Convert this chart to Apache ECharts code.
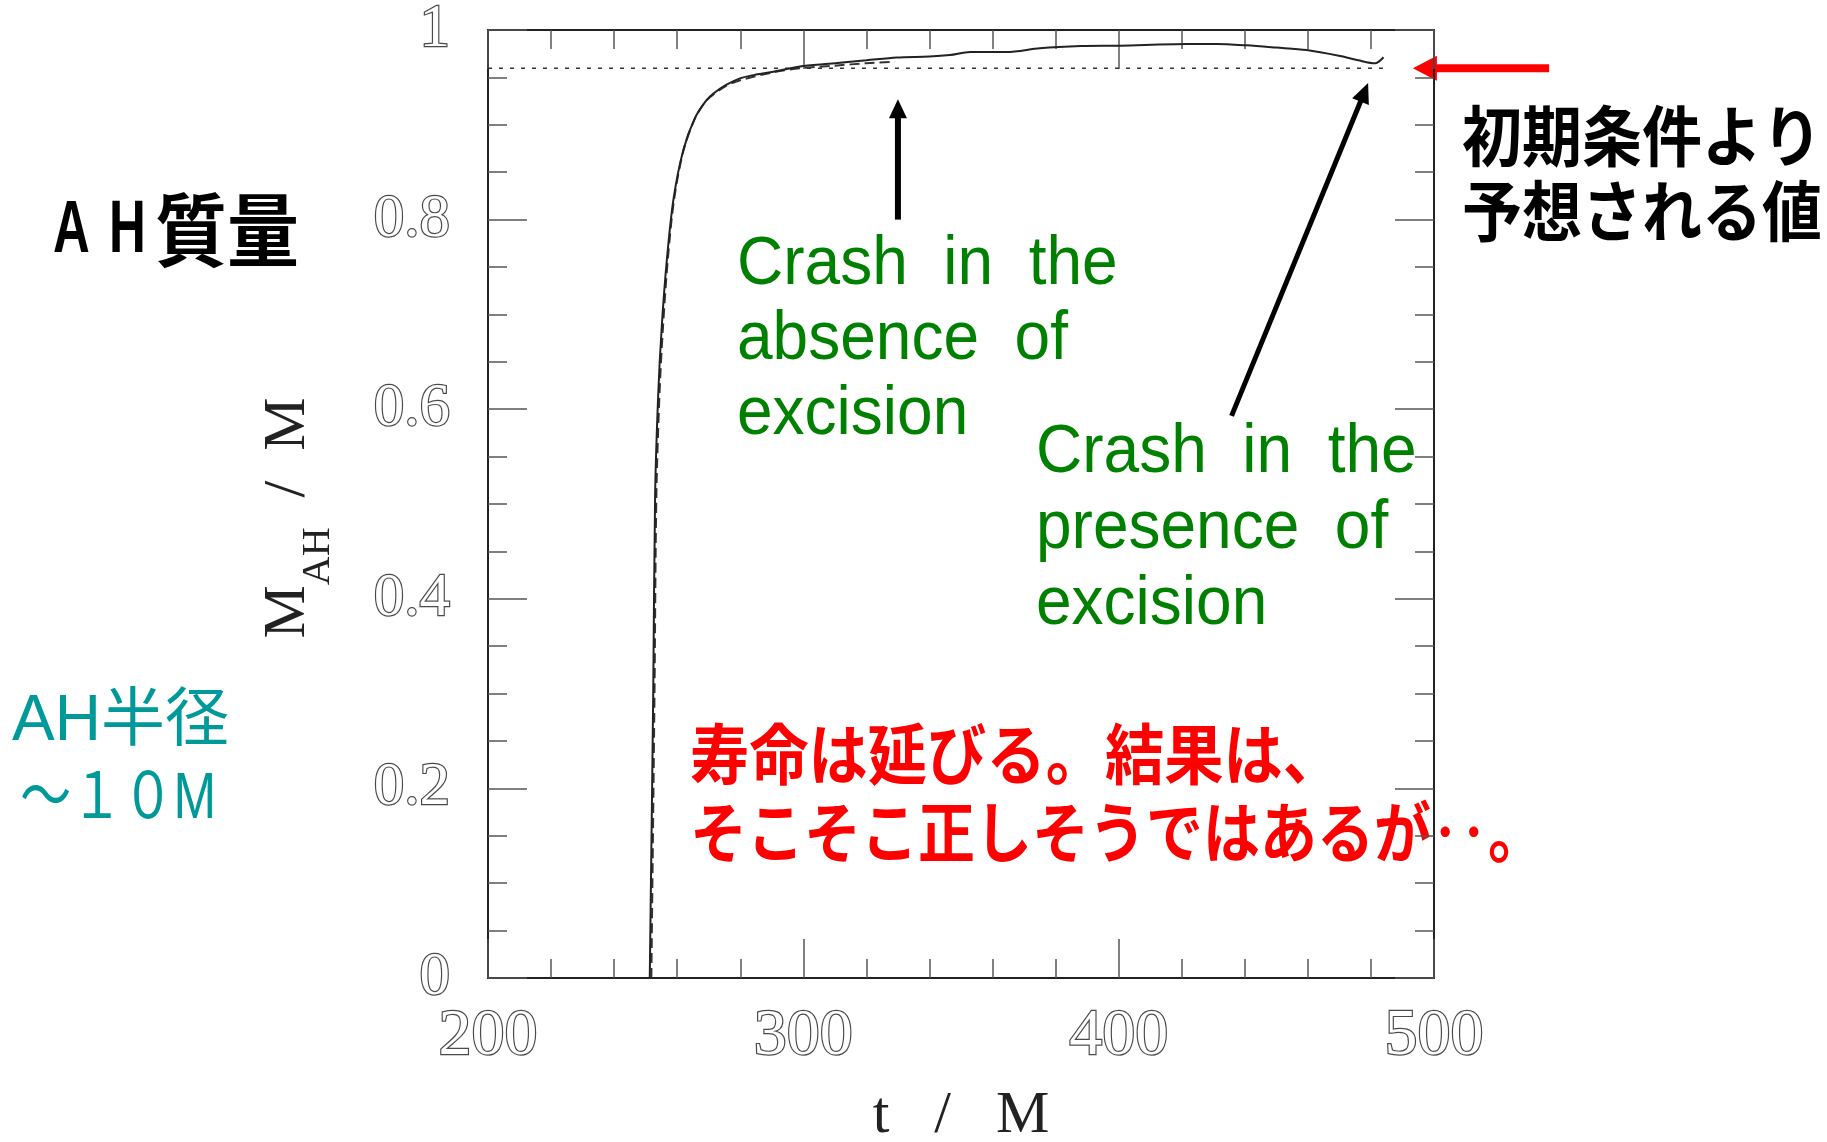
<!DOCTYPE html>
<html>
<head>
<meta charset="utf-8">
<script src="https://cdn.jsdelivr.net/npm/echarts@6/dist/echarts.min.js"></script>
<style>
  html, body { margin: 0; padding: 0; background: #fff; }
  #chart { width: 1827px; height: 1142px; }
</style>
</head>
<body>
<div id="chart"></div>
<script>
// Apparent-horizon mass M_AH/M against time t/M, run with excision
const tExcision = [251.3, 252.4, 253.0, 254.0, 255.1, 256.7, 258.8, 261.9, 265.6, 269.3, 271.5, 275.5, 279.9, 285.0, 290.5, 300.0, 311.6, 320.0, 329.6, 340.0, 346.5, 352.9, 364.5, 375.0, 388.0, 400.4, 421.6, 431.0, 440.6, 450.0, 459.6, 470.2, 476.0, 481.3, 484.0];
const mExcision = [0.000, 0.300, 0.510, 0.617, 0.687, 0.757, 0.821, 0.873, 0.907, 0.926, 0.933, 0.942, 0.949, 0.953, 0.956, 0.962, 0.9655, 0.968, 0.971, 0.972, 0.9736, 0.9768, 0.9768, 0.9807, 0.983, 0.9835, 0.9852, 0.9852, 0.9838, 0.9815, 0.9789, 0.9726, 0.968, 0.9648, 0.9712];

// Same quantity, run without excision (stops at t ~ 330)
const tNoExcision = [251.8, 252.8, 253.4, 254.4, 255.5, 257.0, 259.0, 262.0, 265.7, 269.4, 275.5, 280.0, 290.0, 299.0, 310.0, 320.0, 329.0];
const mNoExcision = [0.000, 0.300, 0.510, 0.617, 0.687, 0.757, 0.821, 0.873, 0.907, 0.926, 0.941, 0.947, 0.955, 0.9596, 0.9624, 0.965, 0.9666];

// Mass expected from the initial data
const tExpected = [200, 484];
const mExpected = [0.9596, 0.9596];

// Tick labels
const xTickLabels = ['200', '300', '400', '500'];
const yTickLabels = ['0', '0.2', '0.4', '0.6', '0.8', '1'];

// Arrow anchors, in data coordinates [t, M]
const arrowAbsence = { from: [330, 0.800], to: [330, 0.927] };
const arrowPresence = { from: [435.8, 0.593], to: [479.1, 0.944] };
const arrowExpected = { from: [536.5, 0.9596], to: [493.3, 0.9596] };

const pairs = (xs, ys) => xs.map((x, i) => [x, ys[i]]);

const chart = echarts.init(document.getElementById('chart'));

const serif = '"Liberation Serif", "DejaVu Serif", serif';
const hollowLabel = {
  fontFamily: serif,
  color: '#ffffff',
  textBorderColor: '#4a4a4a',
  textBorderWidth: 2.4
};
const tickStyle = { color: '#555', width: 1.5 };
const frameLine = { show: true, onZero: false, lineStyle: { color: '#222', width: 2 } };

const xBase = {
  type: 'value', min: 200, max: 500, interval: 100,
  axisLine: frameLine,
  axisTick: { show: true, inside: true, length: 39, lineStyle: tickStyle },
  minorTick: { show: true, splitNumber: 5, length: 19, lineStyle: tickStyle },
  splitLine: { show: false }
};
const yBase = {
  type: 'value', min: 0, max: 1, interval: 0.2,
  axisLine: frameLine,
  axisTick: { show: true, inside: true, length: 39, lineStyle: tickStyle },
  minorTick: { show: true, splitNumber: 4, length: 19, lineStyle: tickStyle },
  splitLine: { show: false }
};

chart.setOption({
  animation: false,
  backgroundColor: '#ffffff',
  grid: { left: 488, top: 30, right: 393, bottom: 164, containLabel: false, outerBoundsMode: 'none' },
  xAxis: [
    Object.assign({}, xBase, {
      position: 'bottom',
      axisLabel: Object.assign({}, hollowLabel, {
        fontSize: 66, margin: 26,
        formatter: v => xTickLabels[Math.round((v - 200) / 100)]
      }),
      name: 't   /   M',
      nameLocation: 'middle',
      nameGap: 108,
      nameTextStyle: { fontFamily: serif, fontSize: 60, color: '#222' }
    }),
    Object.assign({}, xBase, { position: 'top', axisLabel: { show: false } })
  ],
  yAxis: [
    Object.assign({}, yBase, {
      position: 'left',
      axisLabel: Object.assign({}, hollowLabel, {
        fontSize: 61, margin: 38,
        formatter: v => yTickLabels[Math.round(v / 0.2)]
      }),
      name: '{m|M}{s|AH}{e|  /  M}',
      nameLocation: 'middle',
      nameRotate: 90,
      nameGap: 150,
      nameTextStyle: {
        rich: {
          m: { fontFamily: serif, fontSize: 60, color: '#222', verticalAlign: 'top', lineHeight: 60 },
          e: { fontFamily: serif, fontSize: 60, color: '#222', verticalAlign: 'top', lineHeight: 60, padding: [0, 28, 0, 0] },
          s: { fontFamily: serif, fontSize: 40, color: '#222', verticalAlign: 'bottom', lineHeight: 80 }
        }
      }
    }),
    Object.assign({}, yBase, { position: 'right', axisLabel: { show: false } })
  ],
  series: [
    {
      name: 'expected',
      type: 'line',
      data: pairs(tExpected, mExpected),
      symbol: 'none',
      lineStyle: { color: '#333', width: 1.5, type: [4, 7] }
    },
    {
      name: 'without excision',
      type: 'line',
      data: pairs(tNoExcision, mNoExcision),
      symbol: 'none',
      smooth: 0.3,
      lineStyle: { color: '#333', width: 2, type: [10, 5] }
    },
    {
      name: 'with excision',
      type: 'line',
      data: pairs(tExcision, mExcision),
      symbol: 'none',
      smooth: 0.3,
      lineStyle: { color: '#222', width: 2 }
    }
  ]
});

// Arrow built from a shaft and a filled triangular head
function arrow(anchor, color, shaftWidth, headLen, headWidth) {
  const p0 = chart.convertToPixel({ xAxisIndex: 0, yAxisIndex: 0 }, anchor.from);
  const p1 = chart.convertToPixel({ xAxisIndex: 0, yAxisIndex: 0 }, anchor.to);
  const dx = p1[0] - p0[0], dy = p1[1] - p0[1];
  const len = Math.sqrt(dx * dx + dy * dy);
  const ux = dx / len, uy = dy / len;
  const bx = p1[0] - ux * headLen, by = p1[1] - uy * headLen;
  const nx = -uy * headWidth / 2, ny = ux * headWidth / 2;
  return [
    {
      type: 'line', silent: true,
      shape: { x1: p0[0], y1: p0[1], x2: bx + ux * 2, y2: by + uy * 2 },
      style: { stroke: color, lineWidth: shaftWidth }
    },
    {
      type: 'polygon', silent: true,
      shape: { points: [[p1[0], p1[1]], [bx + nx, by + ny], [bx - nx, by - ny]] },
      style: { fill: color }
    }
  ];
}

const jp = '"Noto Sans CJK JP", "Noto Sans CJK SC", sans-serif';
const sans = '"Liberation Sans", Arial, ' + jp;
const latin = '"Liberation Sans", Arial, sans-serif';

function label(text, x, y, font, fill, extra) {
  return Object.assign({
    type: 'text', silent: true, x: x, y: y,
    style: { text: text, font: font, fill: fill, align: 'left', verticalAlign: 'middle' }
  }, extra || {});
}

const green = '#008000';
const red = '#ff0000';
const teal = '#009999';

chart.setOption({
  graphic: [].concat(
    arrow(arrowAbsence, '#000', 6, 19, 18),
    arrow(arrowPresence, '#000', 5, 20, 18),
    arrow(arrowExpected, red, 8, 24, 25),
    [
      label('A', 53, 231, 'bold 75px ' + latin, '#000', { scaleX: 0.68 }),
      label('H', 109, 231, 'bold 75px ' + latin, '#000', { scaleX: 0.68 }),
      label('質量', 155, 230, 'bold 72px ' + jp, '#000', { scaleY: 1.1 }),

      label('AH半径', 12, 722, '64px ' + sans, teal),
      label('～１０M', 20, 800, '64px ' + sans, teal, { scaleX: 0.8 }),

      label('Crash  in  the', 737, 265, '64px ' + sans, green, { scaleY: 1.06 }),
      label('absence  of', 737, 340, '64px ' + sans, green, { scaleY: 1.06 }),
      label('excision', 737, 415, '64px ' + sans, green, { scaleY: 1.06 }),

      label('Crash  in  the', 1036, 453, '64px ' + sans, green, { scaleY: 1.06 }),
      label('presence  of', 1036, 529, '64px ' + sans, green, { scaleY: 1.06 }),
      label('excision', 1036, 605, '64px ' + sans, green, { scaleY: 1.06 }),

      label('寿命は延びる。結果は、', 690, 754, 'bold 57px ' + jp, red, { scaleX: 1.04, scaleY: 1.15 }),
      label('そこそこ正しそうではあるが‥。', 690, 832, 'bold 57px ' + jp, red, { scaleY: 1.15 }),

      label('初期条件より', 1462, 136, 'bold 60px ' + jp, '#000', { scaleY: 1.1 }),
      label('予想される値', 1462, 211, 'bold 60px ' + jp, '#000', { scaleY: 1.1 })
    ]
  )
});
</script>
</body>
</html>
